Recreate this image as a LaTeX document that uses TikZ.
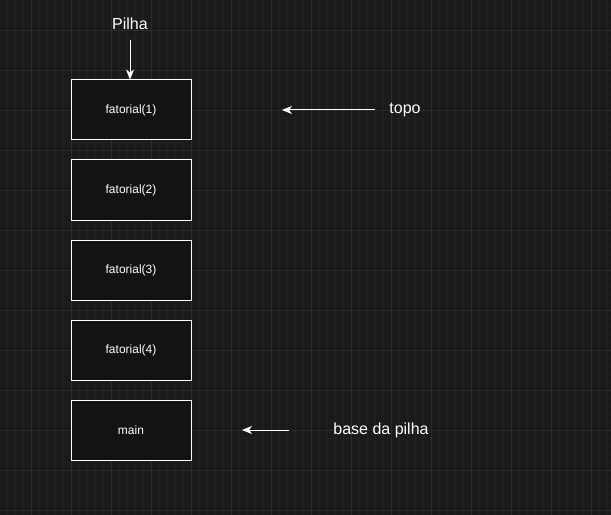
\documentclass[tikz,border=0pt]{standalone}
\usepackage{fontspec}
\setmainfont{Liberation Sans}
\usetikzlibrary{shapes.geometric, arrows, arrows.meta}
\definecolor{bgcol}{HTML}{1A1A1A}
\definecolor{boxcol}{HTML}{131313}
\definecolor{minorcol}{HTML}{202020}
\definecolor{majorcol}{HTML}{2B2B2B}
\tikzstyle{frame} = [rectangle, minimum width=120bp, minimum height=60bp, text centered, draw=white, fill=boxcol, text=white, font=\fontsize{12bp}{14bp}\selectfont, line width=1bp]
\tikzstyle{label} = [text=white, font=\fontsize{16bp}{19bp}\selectfont]
\tikzstyle{arrow} = [white, line width=1bp, -{Stealth[length=10bp, width=8bp, inset=3bp]}]

\begin{document}
\begin{tikzpicture}[x=1bp, y=1bp, node distance=80bp]

\useasboundingbox (0,0) rectangle (611,-515);
\clip (-2,2) rectangle (613,-517);
\fill[bgcol] (-2,2) rectangle (613,-517);
\begin{scope}[shift={(31.5,-30)}]
\draw[minorcol, line width=0.6bp, step=8bp] (-40,40) grid (600,-520);
\draw[majorcol, line width=0.8bp, step=40bp] (-40,40) grid (600,-520);
\end{scope}

\node (fat1) [frame] at (131,-110) {fatorial(1)};
\node (fat2) [frame, below of=fat1] {fatorial(2)};
\node (fat3) [frame, below of=fat2] {fatorial(3)};
\node (fat4) [frame, below of=fat3] {fatorial(4)};
\node (mainF) [frame, below of=fat4] {main};

\node (pilha) [label] at (130,-24) {Pilha};
\node (topo) [label] at (405,-110) {topo};
\node (base) [label] at (381,-430) {base da pilha};
\coordinate (topoEnd) at (282,-110);
\coordinate (baseEnd) at (242,-430);

\draw [arrow] (130,-40) -- (fat1.north -| pilha);
\draw [arrow] (topo.west) ++(-11,0) -- (topoEnd);
\draw [arrow] (base.west) ++(-41,0) -- (baseEnd);

\end{tikzpicture}
\end{document}
